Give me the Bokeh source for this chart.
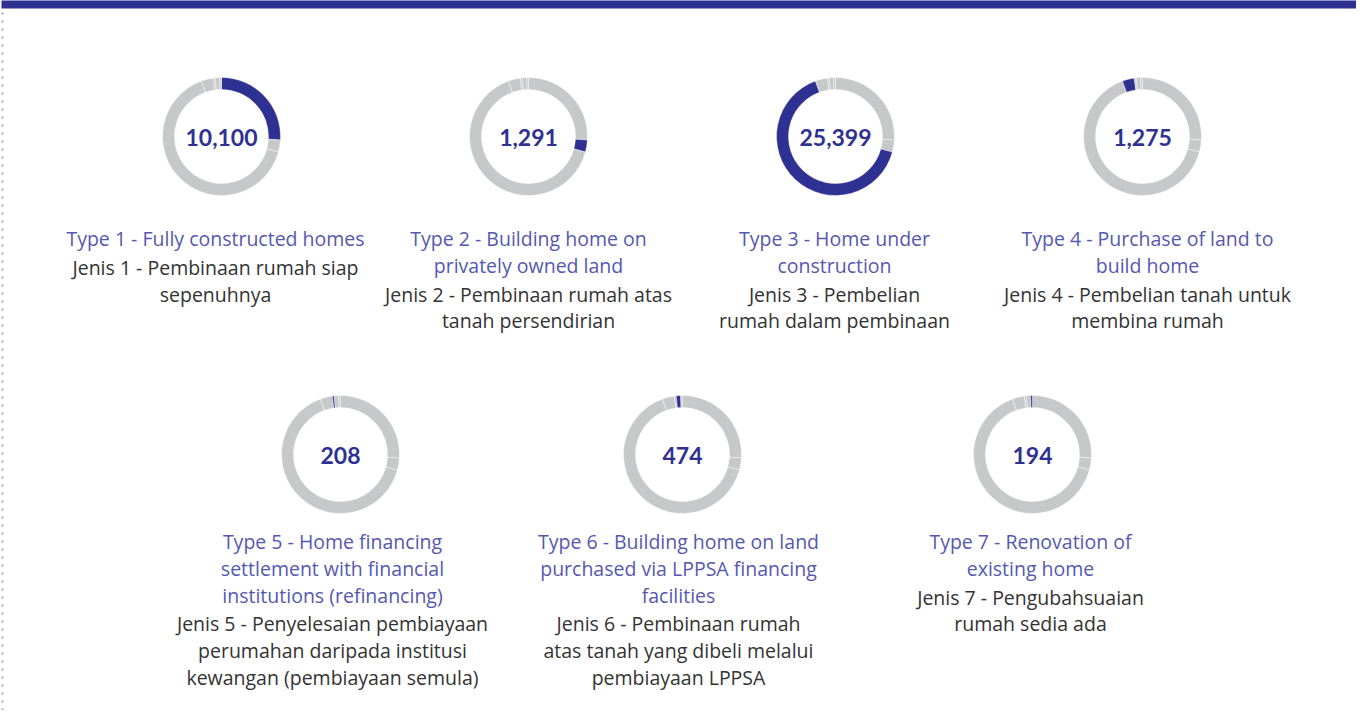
import math
from bokeh.plotting import figure
from bokeh.models import Range1d, ColumnDataSource
from bokeh.core.properties import value
from bokeh.embed import file_html
from bokeh.resources import INLINE

# ---- data ----
values = [10100, 1291, 25399, 1275, 208, 474, 194]
titles_en = [
    "Type 1 - Fully constructed homes",
    "Type 2 - Building home on\nprivately owned land",
    "Type 3 - Home under\nconstruction",
    "Type 4 - Purchase of land to\nbuild home",
    "Type 5 - Home financing\nsettlement with financial\ninstitutions (refinancing)",
    "Type 6 - Building home on land\npurchased via LPPSA financing\nfacilities",
    "Type 7 - Renovation of\nexisting home",
]
titles_ms = [
    "Jenis 1 - Pembinaan rumah siap\nsepenuhnya",
    "Jenis 2 - Pembinaan rumah atas\ntanah persendirian",
    "Jenis 3 - Pembelian\nrumah dalam pembinaan",
    "Jenis 4 - Pembelian tanah untuk\nmembina rumah",
    "Jenis 5 - Penyelesaian pembiayaan\nperumahan daripada institusi\nkewangan (pembiayaan semula)",
    "Jenis 6 - Pembinaan rumah\natas tanah yang dibeli melalui\npembiayaan LPPSA",
    "Jenis 7 - Pengubahsuaian\nrumah sedia ada",
]

# ---- layout (page pixels) ----
W, H = 1356, 710
PAGE_H = 726
def Y(y):  # page y (top-down) -> data y (bottom-up)
    return PAGE_H - y

donut_x = [229, 536, 843, 1150, 348, 690, 1040]
donut_y = [144, 144, 144, 144, 462, 462, 462]
text_x = [223, 536, 842, 1155, 340, 686, 1038]
text_top = [246, 246, 246, 246, 549, 549, 549]
R_OUT, R_IN = 59, 47
LINE = 26.8

NAVY = "#2e3192"
GRAY = "#c7c8ca"
TITLE_C = "#5558b0"
BODY_C = "#333333"
NUM_FONT = "Lato"
FONT = "Open Sans"

p = figure(width=W, height=H, output_backend="svg", toolbar_location=None,
           x_range=Range1d(8, 8 + W), y_range=Range1d(Y(8 + H), Y(8)),
           min_border=0, background_fill_color="white", border_fill_color="white")
p.axis.visible = False
p.grid.visible = False
p.outline_line_color = None

# top bar and dotted left border
p.quad(left=9, right=1369, top=Y(5), bottom=Y(16), fill_color=NAVY, line_color=None)
p.segment(x0=[10], y0=[Y(20)], x1=[10], y1=[Y(726)], line_color="#a19fd9",
          line_width=2, line_dash="2 6")

total = sum(values)
cum = [0]
for v in values:
    cum.append(cum[-1] + v)

for i in range(len(values)):
    xs, ys, sa, ea, cols = [], [], [], [], []
    for j in range(len(values)):
        xs.append(donut_x[i]); ys.append(Y(donut_y[i]))
        sa.append(math.pi / 2 - 2 * math.pi * cum[j + 1] / total)
        ea.append(math.pi / 2 - 2 * math.pi * cum[j] / total)
        cols.append(NAVY if j == i else GRAY)
    src = ColumnDataSource(dict(x=xs, y=ys, sa=sa, ea=ea, c=cols))
    p.annular_wedge(x="x", y="y", inner_radius=R_IN, outer_radius=R_OUT,
                    start_angle="sa", end_angle="ea", direction="anticlock",
                    fill_color="c", line_color="white", line_width=0.6,
                    line_alpha=0.7, source=src)

# center numbers
p.text(x=donut_x, y=[Y(v + 1) for v in donut_y], text=[f"{v:,}" for v in values],
       text_font=value(NUM_FONT), text_font_style="bold", text_font_size="23px",
       text_color=NAVY, text_align="center", text_baseline="middle")

# labels
tx, ty, tt, tc = [], [], [], []
for i in range(len(values)):
    y = text_top[i]
    for line in titles_en[i].split("\n"):
        tx.append(text_x[i]); ty.append(Y(y)); tt.append(line); tc.append(TITLE_C)
        y += LINE
    y += 2
    for line in titles_ms[i].split("\n"):
        tx.append(text_x[i]); ty.append(Y(y)); tt.append(line); tc.append(BODY_C)
        y += LINE
p.text(x=tx, y=ty, text=tt, text_color=tc, text_font=value(FONT),
       text_font_size="19.5px", text_align="center", text_baseline="middle")

open("out.html", "w").write(file_html(p, INLINE))
